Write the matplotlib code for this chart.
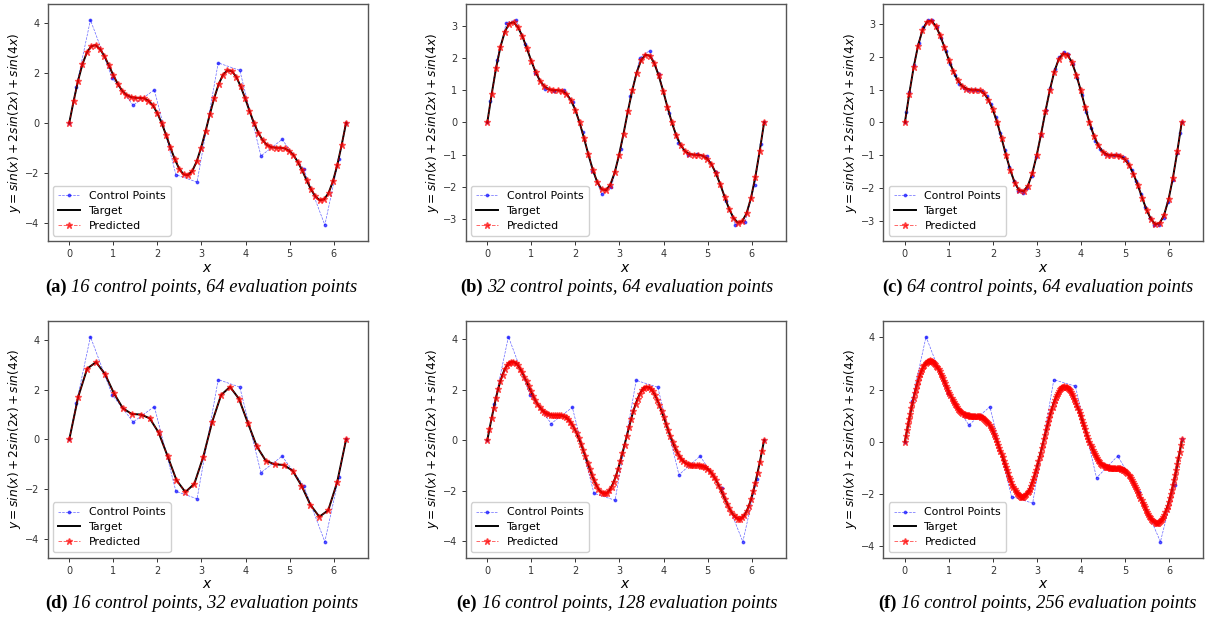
import numpy as np
import matplotlib
matplotlib.use("Agg")
import matplotlib.pyplot as plt

# ---- control points (x = knot-average positions, y = fitted values) ----
ctrl_x16 = [0.0, 0.16, 0.48, 0.97, 1.45, 1.93, 2.42, 2.90, 3.38, 3.87, 4.35, 4.83,
            5.32, 5.80, 6.12, 6.28]
ctrl_x32 = [0.0, 0.072, 0.217, 0.433, 0.650, 0.867, 1.083, 1.300, 1.517, 1.733, 1.950,
            2.167, 2.383, 2.600, 2.817, 3.033, 3.250, 3.467, 3.683, 3.900, 4.117, 4.333,
            4.550, 4.767, 4.983, 5.200, 5.417, 5.633, 5.850, 6.067, 6.211, 6.283]
ctrl_x64 = [0.0, 0.034, 0.103, 0.206, 0.309, 0.412, 0.515, 0.618, 0.721, 0.824, 0.927,
            1.030, 1.133, 1.236, 1.339, 1.442, 1.545, 1.648, 1.751, 1.854, 1.957, 2.060,
            2.163, 2.266, 2.369, 2.472, 2.575, 2.678, 2.781, 2.884, 2.987, 3.090, 3.193,
            3.296, 3.399, 3.502, 3.605, 3.708, 3.811, 3.914, 4.017, 4.120, 4.223, 4.326,
            4.429, 4.532, 4.635, 4.738, 4.841, 4.944, 5.047, 5.150, 5.253, 5.356, 5.459,
            5.562, 5.665, 5.768, 5.871, 5.974, 6.077, 6.180, 6.249, 6.283]

ctrl_a = [0.0, 1.45, 4.12, 1.80, 0.70, 1.32, -2.08, -2.38, 2.40, 2.10, -1.33, -0.67,
          -1.85, -4.10, -1.45, 0.0]
ctrl_b = [0.0, 0.66, 1.94, 3.10, 3.18, 2.45, 1.55, 1.04, 0.99, 1.01, 0.64, -0.31, -1.49,
          -2.23, -2.01, -0.81, 0.81, 2.01, 2.23, 1.49, 0.31, -0.64, -1.01, -0.99, -1.04,
          -1.55, -2.45, -3.18, -3.10, -1.94, -0.66, 0.0]
ctrl_c = [0.0, 0.31, 0.93, 1.77, 2.44, 2.91, 3.13, 3.12, 2.92, 2.58, 2.18, 1.78, 1.44,
          1.19, 1.05, 1.00, 1.00, 1.00, 0.95, 0.81, 0.55, 0.17, -0.32, -0.85, -1.36, -1.80,
          -2.08, -2.15, -2.00, -1.62, -1.05, -0.37,
          0.37, 1.05, 1.62, 2.00, 2.15, 2.08, 1.80, 1.36, 0.85, 0.32, -0.17, -0.55, -0.81,
          -0.95, -1.00, -1.00, -1.00, -1.05, -1.19, -1.44, -1.78, -2.18, -2.58, -2.92,
          -3.12, -3.13, -2.91, -2.44, -1.77, -0.93, -0.31, 0.0]
ctrl_d = [0.0, 1.45, 4.12, 1.80, 0.70, 1.32, -2.08, -2.38, 2.40, 2.10, -1.33, -0.67,
          -1.85, -4.10, -1.50, 0.0]
ctrl_e = [0.0, 1.45, 4.10, 1.80, 0.66, 1.30, -2.10, -2.38, 2.37, 2.10, -1.37, -0.63,
          -1.90, -4.02, -1.53, 0.02]
ctrl_f = [0.0, 1.55, 4.03, 1.88, 0.64, 1.34, -2.11, -2.36, 2.38, 2.13, -1.39, -0.55,
          -1.95, -3.84, -1.68, 0.10]

# ---- target values at the evaluation points ----
target_32 = [0.00, 1.71, 2.84, 3.10, 2.62, 1.85, 1.25, 1.02, 1.00, 0.85, 0.28, -0.66,
             -1.63, -2.11, -1.78, -0.70, 0.70, 1.78, 2.11, 1.63, 0.66, -0.28, -0.85,
             -1.00, -1.02, -1.25, -1.85, -2.62, -3.10, -2.84, -1.71, 0.00]

target_64 = [0.00, 0.88, 1.69, 2.35, 2.82, 3.07, 3.11, 2.95, 2.67, 2.30, 1.91, 1.57,
             1.29, 1.12, 1.03, 1.00, 1.00, 0.98, 0.89, 0.70, 0.40, 0.00, -0.48, -0.99,
             -1.46, -1.84, -2.07, -2.10, -1.93, -1.55, -1.00, -0.35,
             0.35, 1.00, 1.55, 1.93, 2.10, 2.07, 1.84, 1.46, 0.99, 0.48, 0.00, -0.40,
             -0.70, -0.89, -0.98, -1.00, -1.00, -1.03, -1.12, -1.29, -1.57, -1.91, -2.30,
             -2.67, -2.95, -3.11, -3.07, -2.82, -2.35, -1.69, -0.88, 0.00]

target_128 = [0.00, 0.44, 0.88, 1.29, 1.68, 2.03, 2.34, 2.60, 2.81, 2.96,
              3.06, 3.11, 3.11, 3.06, 2.97, 2.84, 2.69, 2.51, 2.33, 2.13,
              1.94, 1.76, 1.59, 1.44, 1.32, 1.21, 1.13, 1.07, 1.03, 1.01,
              1.00, 1.00, 1.00, 1.00, 0.98, 0.95, 0.91, 0.84, 0.74, 0.61,
              0.46, 0.28, 0.07, -0.15, -0.39, -0.64, -0.90, -1.14, -1.38, -1.59,
              -1.78, -1.93, -2.04, -2.10, -2.11, -2.08, -1.99, -1.84, -1.65, -1.42,
              -1.15, -0.84, -0.51, -0.17,
              0.17, 0.51, 0.84, 1.15, 1.42, 1.65, 1.84, 1.99, 2.08, 2.11,
              2.10, 2.04, 1.93, 1.78, 1.59, 1.38, 1.14, 0.90, 0.64, 0.39,
              0.15, -0.07, -0.28, -0.46, -0.61, -0.74, -0.84, -0.91, -0.95, -0.98,
              -1.00, -1.00, -1.00, -1.00, -1.01, -1.03, -1.07, -1.13, -1.21, -1.32,
              -1.44, -1.59, -1.76, -1.94, -2.13, -2.33, -2.51, -2.69, -2.84, -2.97,
              -3.06, -3.11, -3.11, -3.06, -2.96, -2.81, -2.60, -2.34, -2.03, -1.68,
              -1.29, -0.88, -0.44, 0.00]

target_256 = [0.00, 0.22, 0.44, 0.66, 0.87, 1.08, 1.29, 1.48, 1.67, 1.85,
              2.02, 2.18, 2.33, 2.47, 2.59, 2.70, 2.80, 2.89, 2.96, 3.02,
              3.06, 3.09, 3.11, 3.12, 3.11, 3.09, 3.06, 3.02, 2.97, 2.91,
              2.85, 2.78, 2.70, 2.61, 2.52, 2.43, 2.34, 2.24, 2.15, 2.05,
              1.96, 1.87, 1.78, 1.69, 1.61, 1.53, 1.46, 1.39, 1.33, 1.27,
              1.22, 1.18, 1.14, 1.10, 1.08, 1.05, 1.04, 1.02, 1.01, 1.01,
              1.00, 1.00, 1.00, 1.00, 1.00, 1.00, 1.00, 0.99, 0.99, 0.97,
              0.96, 0.94, 0.91, 0.88, 0.85, 0.80, 0.75, 0.70, 0.63, 0.56,
              0.48, 0.40, 0.31, 0.21, 0.11, 0.00, -0.11, -0.23, -0.35, -0.47,
              -0.60, -0.73, -0.85, -0.98, -1.10, -1.22, -1.34, -1.45, -1.55, -1.65,
              -1.74, -1.83, -1.90, -1.97, -2.02, -2.06, -2.09, -2.11, -2.12, -2.11,
              -2.09, -2.06, -2.01, -1.95, -1.88, -1.80, -1.70, -1.59, -1.48, -1.35,
              -1.21, -1.07, -0.92, -0.76, -0.60, -0.43, -0.26, -0.09,
              0.09, 0.26, 0.43, 0.60, 0.76, 0.92, 1.07, 1.21,
              1.35, 1.48, 1.59, 1.70, 1.80, 1.88, 1.95, 2.01, 2.06, 2.09,
              2.11, 2.12, 2.11, 2.09, 2.06, 2.02, 1.97, 1.90, 1.83, 1.74,
              1.65, 1.55, 1.45, 1.34, 1.22, 1.10, 0.98, 0.85, 0.73, 0.60,
              0.47, 0.35, 0.23, 0.11, 0.00, -0.11, -0.21, -0.31, -0.40, -0.48,
              -0.56, -0.63, -0.70, -0.75, -0.80, -0.85, -0.88, -0.91, -0.94, -0.96,
              -0.97, -0.99, -0.99, -1.00, -1.00, -1.00, -1.00, -1.00, -1.00, -1.00,
              -1.01, -1.01, -1.02, -1.04, -1.05, -1.08, -1.10, -1.14, -1.18, -1.22,
              -1.27, -1.33, -1.39, -1.46, -1.53, -1.61, -1.69, -1.78, -1.87, -1.96,
              -2.05, -2.15, -2.24, -2.34, -2.43, -2.52, -2.61, -2.70, -2.78, -2.85,
              -2.91, -2.97, -3.02, -3.06, -3.09, -3.11, -3.12, -3.11, -3.09, -3.06,
              -3.02, -2.96, -2.89, -2.80, -2.70, -2.59, -2.47, -2.33, -2.18, -2.02,
              -1.85, -1.67, -1.48, -1.29, -1.08, -0.87, -0.66, -0.44, -0.22, 0.00]

# predicted values (spline output); differs from target only near the right end
pred_128 = target_128[:-1] + [0.02]
pred_256 = target_256[:-4] + [-0.62, -0.38, -0.13, 0.10]

panels = [
    ("(a)", "16 control points, 64 evaluation points", ctrl_x16, ctrl_a, target_64, target_64),
    ("(b)", "32 control points, 64 evaluation points", ctrl_x32, ctrl_b, target_64, target_64),
    ("(c)", "64 control points, 64 evaluation points", ctrl_x64, ctrl_c, target_64, target_64),
    ("(d)", "16 control points, 32 evaluation points", ctrl_x16, ctrl_d, target_32, target_32),
    ("(e)", "16 control points, 128 evaluation points", ctrl_x16, ctrl_e, target_128, pred_128),
    ("(f)", "16 control points, 256 evaluation points", ctrl_x16, ctrl_f, target_256, pred_256),
]

W, H = 1206, 620
fig = plt.figure(figsize=(W / 100, H / 100), dpi=100)

col_left = [47.7, 465.7, 883.3]
row_top = [4.0, 320.7]
ax_w, ax_h = 320.0, 237.0
cap_x = [201.5, 617.0, 1037.5]
cap_y = [287.0, 603.0]

renderer = fig.canvas.get_renderer()

for idx, (tag, text, cx, cy, ty, py) in enumerate(panels):
    r, c = divmod(idx, 3)
    left = col_left[c] / W
    bottom = 1 - (row_top[r] + ax_h) / H
    ax = fig.add_axes([left, bottom, ax_w / W, ax_h / H])

    x_eval = np.linspace(0, 2 * np.pi, len(ty))
    ax.plot(cx, cy, color="blue", linestyle="--", linewidth=0.5, alpha=0.6,
            marker=".", markersize=3.5, markerfacecolor="blue", markeredgecolor="blue",
            label="Control Points")
    ax.plot(x_eval, ty, color="black", linewidth=1.4, label="Target")
    ax.plot(x_eval, py, color="red", linestyle="--", linewidth=0.7, alpha=0.6,
            marker="*", markersize=5.0, label="Predicted")
    ax.margins(0.078)

    ax.set_xticks(range(7))
    if c in (1, 2) and r == 0:
        ax.set_yticks(range(-3, 4))
    else:
        ax.set_yticks([-4, -2, 0, 2, 4])
    ax.tick_params(labelsize=7, length=3, width=0.7, colors="#333333", pad=3)
    for sp in ax.spines.values():
        sp.set_color("#555555")
        sp.set_linewidth(1.0)
    ax.set_xlabel("$x$", fontsize=10, labelpad=1)
    ax.set_ylabel("$y = sin(x) + 2sin(2x) + sin(4x)$", fontsize=8.8, labelpad=1.5)
    ax.legend(loc="lower left", fontsize=7.9, framealpha=0.9, edgecolor="#cccccc",
              handlelength=2.0, borderpad=0.45, labelspacing=0.45)

    # caption: bold tag + italic description, centred under the panel
    yc = 1 - cap_y[r] / H
    t1 = fig.text(0, yc, tag, fontsize=13.3, fontweight="bold", family="Liberation Serif",
                  va="center", ha="left")
    t2 = fig.text(0, yc, text, fontsize=13.3, style="italic", family="Liberation Serif",
                  va="center", ha="left")
    w1 = t1.get_window_extent(renderer).width
    w2 = t2.get_window_extent(renderer).width
    gap = 4.5
    x0 = cap_x[c] - (w1 + gap + w2) / 2
    t1.set_x(x0 / W)
    t2.set_x((x0 + w1 + gap) / W)

fig.savefig("out.png", dpi=100)
